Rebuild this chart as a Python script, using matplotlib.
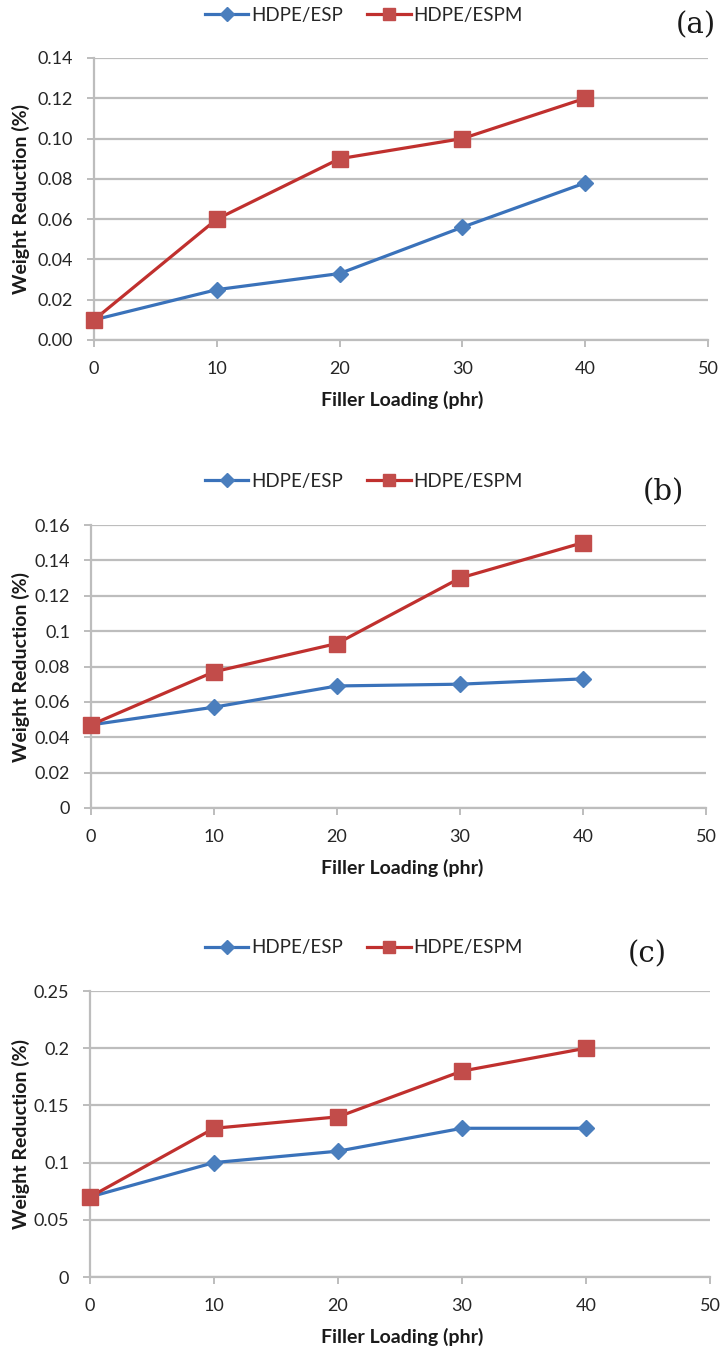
import matplotlib
matplotlib.use("Agg")
import matplotlib.pyplot as plt
from matplotlib.lines import Line2D

plt.rcParams['font.family'] = ['Lato', 'DejaVu Sans']

filler = [0, 10, 20, 30, 40]
series_names = ["HDPE/ESP", "HDPE/ESPM"]

a_esp = [0.010, 0.025, 0.033, 0.056, 0.078]
a_espm = [0.010, 0.060, 0.090, 0.100, 0.120]
b_esp = [0.047, 0.057, 0.069, 0.070, 0.073]
b_espm = [0.047, 0.077, 0.093, 0.130, 0.150]
c_esp = [0.070, 0.100, 0.110, 0.130, 0.130]
c_espm = [0.070, 0.130, 0.140, 0.180, 0.200]

a_yticks = [0.00, 0.02, 0.04, 0.06, 0.08, 0.10, 0.12, 0.14]
a_ylabels = ["0.00", "0.02", "0.04", "0.06", "0.08", "0.10", "0.12", "0.14"]
b_yticks = [0, 0.02, 0.04, 0.06, 0.08, 0.10, 0.12, 0.14, 0.16]
b_ylabels = ["0", "0.02", "0.04", "0.06", "0.08", "0.1", "0.12", "0.14", "0.16"]
c_yticks = [0, 0.05, 0.10, 0.15, 0.20, 0.25]
c_ylabels = ["0", "0.05", "0.1", "0.15", "0.2", "0.25"]
xticks = [0, 10, 20, 30, 40, 50]
panel_tags = ["(a)", "(b)", "(c)"]

BLUE_LINE = "#3A72BA"
BLUE_MK = "#4A7EBD"
RED_LINE = "#C0302E"
RED_MK = "#C24C4A"
GRID = "#BDBDBD"
TXT = "#262626"

W, H = 725, 1351
fig = plt.figure(figsize=(W / 100, H / 100), dpi=100)

def fx(px):
    return px / W

def fy(py):
    return 1 - py / H

panels = [
    dict(box=(94, 708, 58, 340), esp=a_esp, espm=a_espm, yt=a_yticks, yl=a_ylabels,
         leg_y=15, tag_xy=(696, 25), xlab_y=400),
    dict(box=(91, 706, 525, 808), esp=b_esp, espm=b_espm, yt=b_yticks, yl=b_ylabels,
         leg_y=481, tag_xy=(663, 492), xlab_y=868),
    dict(box=(90, 710, 991, 1277), esp=c_esp, espm=c_espm, yt=c_yticks, yl=c_ylabels,
         leg_y=948, tag_xy=(647, 954), xlab_y=1337),
]

for i, p in enumerate(panels):
    l, r, t, b = p["box"]
    ax = fig.add_axes([fx(l), fy(b), fx(r) - fx(l), fy(t) - fy(b)])
    ax.plot(filler, p["esp"], color=BLUE_LINE, lw=2.3, marker="D", ms=8.5,
            markerfacecolor=BLUE_MK, markeredgecolor=BLUE_MK, zorder=3,
            label=series_names[0], clip_on=False)
    ax.plot(filler, p["espm"], color=RED_LINE, lw=2.3, marker="s", ms=11,
            markerfacecolor=RED_MK, markeredgecolor=RED_MK, zorder=4,
            label=series_names[1], clip_on=False)
    ax.set_xlim(0, 50)
    ax.set_ylim(p["yt"][0], p["yt"][-1])
    ax.set_xticks(xticks)
    ax.set_xticklabels([str(x) for x in xticks], fontsize=13, color=TXT)
    ax.set_yticks(p["yt"])
    ax.set_yticklabels(p["yl"], fontsize=13, color=TXT)
    ax.yaxis.grid(True, color=GRID, lw=1.6)
    ax.set_axisbelow(True)
    for s in ["top", "right"]:
        ax.spines[s].set_visible(False)
    for s in ["left", "bottom"]:
        ax.spines[s].set_color(GRID)
        ax.spines[s].set_linewidth(1.6)
    ax.tick_params(axis="both", direction="out", length=5, width=1.4, color=GRID)
    ax.tick_params(axis="x", pad=10)
    ax.tick_params(axis="y", pad=10)

    fig.text(fx(402), fy(p["xlab_y"]), "Filler Loading (phr)", ha="center", va="center",
             fontsize=14, fontweight="bold", color="#1a1a1a")
    fig.text(fx(21), fy((t + b) / 2), "Weight Reduction (%)", ha="center", va="center",
             rotation=90, fontsize=14, fontweight="bold", color="#1a1a1a")
    fig.text(fx(p["tag_xy"][0]), fy(p["tag_xy"][1]), panel_tags[i], ha="center", va="center",
             fontsize=21, family=["DejaVu Serif"], color="#1a1a1a")

    handles = [
        Line2D([], [], color=BLUE_LINE, lw=2.3, marker="D", ms=7,
               markerfacecolor=BLUE_MK, markeredgecolor=BLUE_MK),
        Line2D([], [], color=RED_LINE, lw=2.3, marker="s", ms=8.5,
               markerfacecolor=RED_MK, markeredgecolor=RED_MK),
    ]
    fig.legend(handles, series_names, loc="center", ncol=2,
               bbox_to_anchor=(fx(364), fy(p["leg_y"])), frameon=False,
               fontsize=13.5, handlelength=2.3, handletextpad=0.15, columnspacing=1.3,
               labelcolor=TXT)

fig.savefig("out.png", dpi=100)
